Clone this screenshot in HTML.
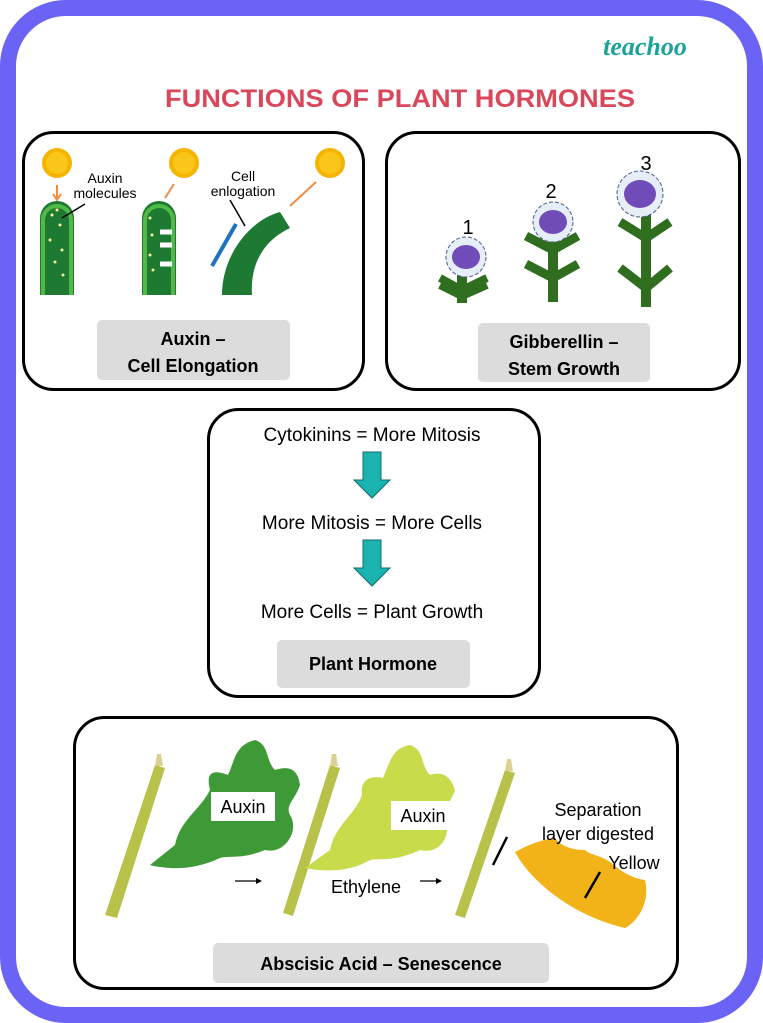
<!DOCTYPE html>
<html><head><meta charset="utf-8"><style>
html,body{margin:0;padding:0;background:#fff;}
svg{display:block;}
</style></head><body>
<svg width="763" height="1023" viewBox="0 0 763 1023" xmlns="http://www.w3.org/2000/svg" font-family="Liberation Sans, sans-serif">
<rect x="0" y="0" width="763" height="1023" fill="#fff"/>
<rect x="8" y="8" width="747" height="1007" rx="58" fill="none" stroke="#6b62f6" stroke-width="16"/>
<text x="645" y="55" text-anchor="middle" font-family="Liberation Serif, serif" font-style="italic" font-weight="bold" font-size="26" fill="#1aa39a">teachoo</text>
<text x="400" y="107" text-anchor="middle" font-weight="bold" font-size="25" fill="#d9475b" textLength="470" lengthAdjust="spacingAndGlyphs">FUNCTIONS OF PLANT HORMONES</text>

<!-- Panel 1 -->
<rect x="23.5" y="132.5" width="340" height="257" rx="30" fill="#fff" stroke="#000" stroke-width="3"/>
<g>
 <circle cx="57" cy="163" r="15" fill="#f5b400"/><circle cx="57" cy="163" r="11" fill="#fbc61a"/>
 <circle cx="184" cy="163" r="15" fill="#f5b400"/><circle cx="184" cy="163" r="11" fill="#fbc61a"/>
 <circle cx="330" cy="163" r="15" fill="#f5b400"/><circle cx="330" cy="163" r="11" fill="#fbc61a"/>
 <path d="M57 185 V198" stroke="#ef8b45" stroke-width="2"/><path d="M53 194 L57 200 L61 194" fill="none" stroke="#ef8b45" stroke-width="2"/>
 <path d="M174 184 L165 198" stroke="#ef8b45" stroke-width="2"/>
 <path d="M316 182 L290 206" stroke="#ef8b45" stroke-width="2"/>
 <path d="M40 295 V218 a17 17 0 0 1 34 0 V295 Z" fill="#1e7a33"/>
 <path d="M43 295 V220 a14 14 0 0 1 28 0 V295" fill="none" stroke="#52b947" stroke-width="4"/>
 <g fill="#f4f2a0"><circle cx="52" cy="215" r="1.5"/><circle cx="60" cy="225" r="1.5"/><circle cx="50" cy="240" r="1.5"/><circle cx="62" cy="250" r="1.5"/><circle cx="55" cy="262" r="1.5"/><circle cx="63" cy="275" r="1.5"/><circle cx="57" cy="210" r="1.5"/></g>
 <path d="M142 295 V218 a17 17 0 0 1 34 0 V295 Z" fill="#1e7a33"/>
 <path d="M145 295 V220 a14 14 0 0 1 28 0 V295" fill="none" stroke="#52b947" stroke-width="4"/>
 <g fill="#f4f2a0"><circle cx="150" cy="218" r="1.5"/><circle cx="152" cy="235" r="1.5"/><circle cx="150" cy="255" r="1.5"/><circle cx="153" cy="270" r="1.5"/></g>
 <path d="M160 232 h12 M160 245 h12 M160 264 h12" stroke="#fff" stroke-width="5"/>
 <path d="M222 295 C222 255 250 220 280 212 L290 228 C265 240 250 262 252 295 Z" fill="#1e7a33"/>
 <path d="M236 224 L212 266" stroke="#1f72c0" stroke-width="4" fill="none"/>
 <text x="105" y="183" text-anchor="middle" font-size="14">Auxin</text>
 <text x="105" y="198" text-anchor="middle" font-size="14">molecules</text>
 <path d="M85 204 L62 218" stroke="#000" stroke-width="1.5"/>
 <text x="243" y="181" text-anchor="middle" font-size="14">Cell</text>
 <text x="243" y="196" text-anchor="middle" font-size="14">enlogation</text>
 <path d="M230 200 L245 226" stroke="#000" stroke-width="1.5"/>
</g>
<rect x="97" y="320" width="193" height="60" rx="5" fill="#dcdcdc"/>
<text x="193" y="345" text-anchor="middle" font-weight="bold" font-size="18">Auxin –</text>
<text x="193" y="372" text-anchor="middle" font-weight="bold" font-size="18">Cell Elongation</text>

<!-- Panel 2 -->
<rect x="386.5" y="132.5" width="353" height="257" rx="30" fill="#fff" stroke="#000" stroke-width="3"/>
<g stroke="#2f6e1f" stroke-width="10" stroke-linecap="butt">
 <path d="M462 258 V303"/><path d="M462 290 L440 278 M462 290 L487 278 M462 296 L440 285 M462 296 L487 285" stroke-width="8"/>
 <path d="M553 222 V302"/><path d="M553 250 L526 236 M553 250 L578 236 M553 278 L526 264 M553 278 L578 264" stroke-width="9"/>
 <path d="M646 196 V307"/><path d="M646 238 L620 222 M646 238 L670 222 M646 288 L620 268 M646 288 L670 268" stroke-width="9"/>
</g>
<g fill="#e6eef8" stroke="#4a5a8a" stroke-width="1" stroke-dasharray="4 2">
 <circle cx="466" cy="257" r="20"/><circle cx="553" cy="222" r="20"/><circle cx="640" cy="194" r="23"/>
</g>
<g fill="#6f4cb8">
 <ellipse cx="466" cy="257" rx="14" ry="12"/><ellipse cx="553" cy="222" rx="14" ry="12"/><ellipse cx="640" cy="194" rx="16" ry="14"/>
</g>
<text x="468" y="234" text-anchor="middle" font-size="20">1</text>
<text x="551" y="198" text-anchor="middle" font-size="20">2</text>
<text x="646" y="170" text-anchor="middle" font-size="20">3</text>
<rect x="478" y="323" width="172" height="59" rx="5" fill="#dcdcdc"/>
<text x="564" y="348" text-anchor="middle" font-weight="bold" font-size="18">Gibberellin –</text>
<text x="564" y="375" text-anchor="middle" font-weight="bold" font-size="18">Stem Growth</text>

<!-- Panel 3 -->
<rect x="208.5" y="409.5" width="331" height="287" rx="30" fill="#fff" stroke="#000" stroke-width="3"/>
<text x="372" y="441" text-anchor="middle" font-size="19">Cytokinins = More Mitosis</text>
<path d="M363 452 h18 v28 h9 l-18 18 l-18 -18 h9 Z" fill="#1bb3ad" stroke="#0f6e6a" stroke-width="1"/>
<text x="372" y="529" text-anchor="middle" font-size="19">More Mitosis = More Cells</text>
<path d="M363 540 h18 v28 h9 l-18 18 l-18 -18 h9 Z" fill="#1bb3ad" stroke="#0f6e6a" stroke-width="1"/>
<text x="372" y="618" text-anchor="middle" font-size="19">More Cells = Plant Growth</text>
<rect x="277" y="640" width="193" height="48" rx="5" fill="#dcdcdc"/>
<text x="373" y="670" text-anchor="middle" font-weight="bold" font-size="18">Plant Hormone</text>

<!-- Panel 4 -->
<rect x="74.5" y="717.5" width="603" height="271" rx="30" fill="#fff" stroke="#000" stroke-width="3"/>
<g>
 <path d="M105 915 L155 765 L165 768 L117 918 Z" fill="#b8c24a"/>
 <path d="M155 766 l2 -12 l4 0 l2 12 Z" fill="#ddd090"/>
 <path d="M150 865 L175 845 C180 820 200 810 210 790 C205 770 215 770 228 775 C235 760 235 745 255 740 C270 745 265 760 275 770 C290 765 298 770 300 785 C295 800 285 805 290 815 C300 830 285 855 265 850 C240 860 230 855 220 858 C195 870 170 870 150 865 Z" fill="#3e9a36"/>
 <path d="M283 913 L330 765 L340 768 L293 916 Z" fill="#b8c24a"/>
 <path d="M330 766 l2 -12 l4 0 l2 12 Z" fill="#ddd090"/>
 <path d="M305 868 L330 850 C335 825 355 815 362 795 C360 780 370 775 383 778 C390 762 392 748 410 745 C425 750 420 765 430 775 C445 770 452 780 455 790 C450 805 440 810 445 820 C452 835 440 855 420 850 C395 862 380 858 370 860 C350 872 325 872 305 868 Z" fill="#c8db4a"/>
 <path d="M455 915 L505 770 L515 773 L465 918 Z" fill="#b8c24a"/>
 <path d="M505 771 l2 -12 l4 0 l2 12 Z" fill="#ddd090"/>
 <path d="M515 852 C530 880 570 915 625 928 C640 920 650 900 645 880 C630 878 620 870 610 862 C600 855 590 855 585 850 C570 850 560 845 555 838 C540 840 528 845 515 852 Z" fill="#f2b318"/>
 <rect x="211" y="792" width="64" height="29" fill="#fff"/>
 <text x="243" y="813" text-anchor="middle" font-size="18">Auxin</text>
 <rect x="391" y="801" width="64" height="29" fill="#fff"/>
 <text x="423" y="822" text-anchor="middle" font-size="18">Auxin</text>
 <text x="366" y="893" text-anchor="middle" font-size="18">Ethylene</text>
 <text x="598" y="816" text-anchor="middle" font-size="18">Separation</text>
 <text x="598" y="840" text-anchor="middle" font-size="18">layer digested</text>
 <text x="634" y="869" text-anchor="middle" font-size="18">Yellow</text>
 <path d="M235 881 H260" stroke="#000" stroke-width="1.2"/><path d="M256 878 L262 881 L256 884" fill="#000"/>
 <path d="M420 881 H440" stroke="#000" stroke-width="1.2"/><path d="M436 878 L442 881 L436 884" fill="#000"/>
 <path d="M507 837 L493 865" stroke="#000" stroke-width="2.5"/>
 <path d="M600 872 L585 898" stroke="#000" stroke-width="2.5"/>
</g>
<rect x="213" y="943" width="336" height="40" rx="5" fill="#dcdcdc"/>
<text x="381" y="970" text-anchor="middle" font-weight="bold" font-size="18">Abscisic Acid – Senescence</text>
</svg>
</body></html>
